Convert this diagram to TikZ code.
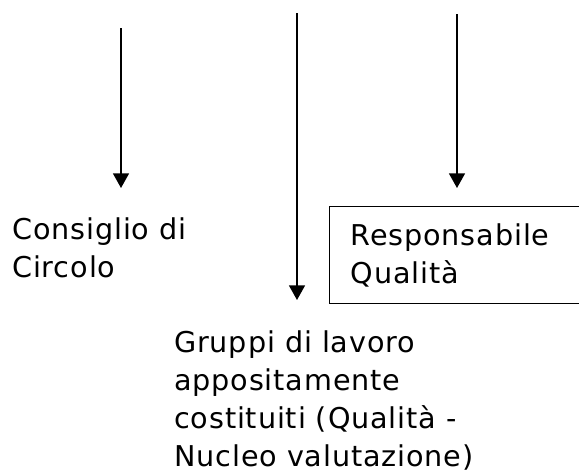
\documentclass[tikz,border=0pt]{standalone}
\usepackage{fontspec}
\setmainfont{DejaVu Sans}[LetterSpace=3]
\usetikzlibrary{arrows.meta}
\begin{document}
\begin{tikzpicture}[x=0.75pt,y=-0.75pt]
    \tikzstyle{arrow}=[line width=1.2pt, -{Triangle[width=12pt,length=11pt]}]
    \tikzstyle{txt}=[inner sep=0pt, anchor=north west, align=left, font=\fontsize{21.5}{28.5}\selectfont]
    \tikzstyle{qbox}=[txt, draw, line width=1pt, inner xsep=15.75pt, inner ysep=0pt, text width=180pt, minimum height=72.75pt]
    \useasboundingbox (0,0) rectangle (579,471);

    \node[txt]  (consiglio)    at (12,217)  {Consiglio di\\Circolo};
    \node[txt]  (gruppi)       at (174,330) {Gruppi di lavoro\\appositamente\\costituiti (Qualità -\\Nucleo valutazione)};
    \node[qbox] (responsabile) at (329,206) {Responsabile\\Qualità};

    \coordinate (srcA) at (121,28);
    \coordinate (srcB) at (297,13);
    \coordinate (srcC) at (457,14);

    \draw[arrow, shorten >=21.75pt] (srcA) -- (srcA |- consiglio.north);
    \draw[arrow, shorten >=22.5pt]  (srcB) -- (srcB |- gruppi.north);
    \draw[arrow, shorten >=13.5pt]  (srcC) -- (srcC |- responsabile.north);

\end{tikzpicture}
\end{document}
